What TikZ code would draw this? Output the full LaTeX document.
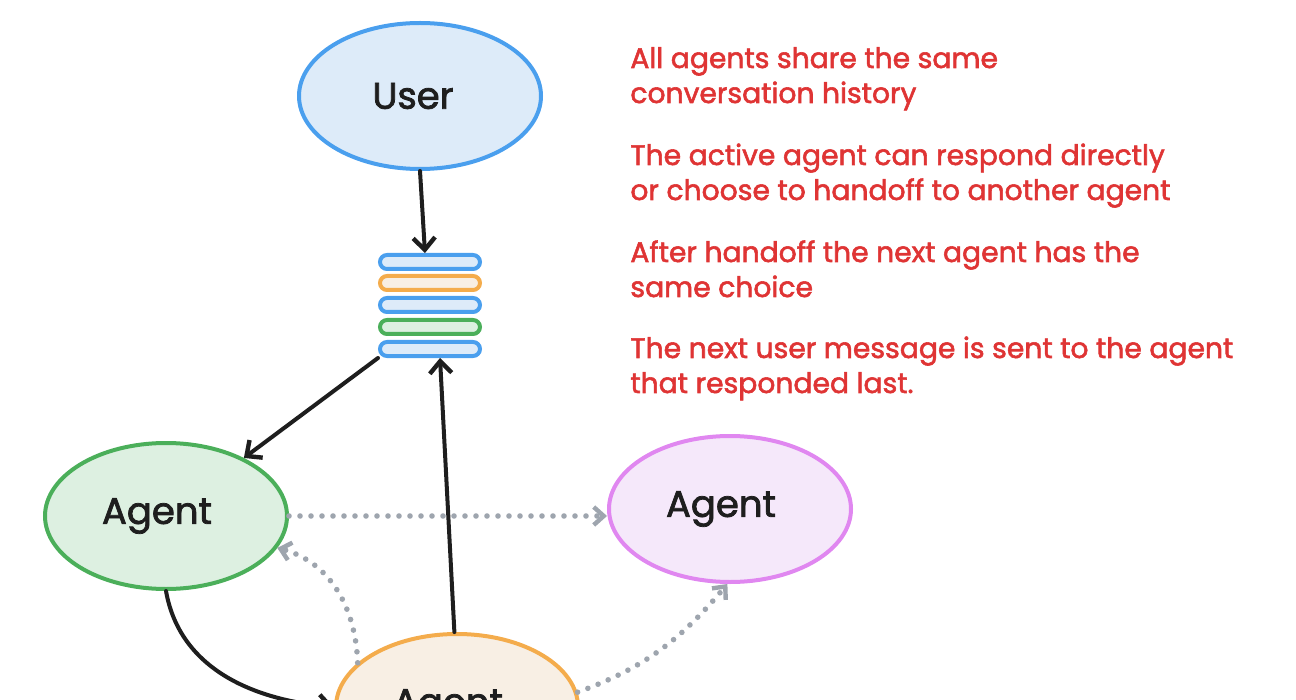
\documentclass[tikz,border=0pt]{standalone}
\usepackage{fontspec}
\setmainfont{Poppins}[FakeBold=2]
\usetikzlibrary{shapes.geometric,arrows.meta}
\definecolor{blueS}{HTML}{4A9FEE}
\definecolor{blueF}{HTML}{DDEBF9}
\definecolor{orangeS}{HTML}{F4AC4C}
\definecolor{orangeF}{HTML}{F8EFE4}
\definecolor{greenS}{HTML}{4BAF5A}
\definecolor{greenF}{HTML}{DDF0E1}
\definecolor{purpleS}{HTML}{E087F0}
\definecolor{purpleF}{HTML}{F5E8FA}
\definecolor{dotgray}{HTML}{9EA5AE}
\definecolor{notered}{HTML}{DF3434}
\definecolor{ink}{HTML}{1E1E1E}
\begin{document}
\begin{tikzpicture}[x=0.5pt,y=0.5pt,
  ell/.style={ellipse, draw, line width=2pt, minimum width=121pt, minimum height=73pt, inner sep=0pt, font=\fontsize{18.5}{22}\selectfont, text=ink},
  bar/.style={rectangle, rounded corners=3.5pt, draw, line width=2pt, minimum width=50pt, minimum height=7pt, inner sep=0pt},
  blk/.style={draw=ink, line width=2pt, line cap=round, -{Straight Barb[length=6pt,width=11pt,line width=2.2pt]}},
  dot/.style={draw=dotgray, line width=2.8pt, line cap=round, dash pattern=on 0pt off 5.5pt, -{Straight Barb[length=5pt,width=9pt,line width=2.2pt]}},
  note/.style={anchor=base west, align=left, text=notered, font=\fontsize{14.1}{17.5}\selectfont, inner sep=0pt}]
\useasboundingbox (0,0) rectangle (1296,-700);
\clip (0,0) rectangle (1296,-700);
% nodes
\node[ell, draw=blueS, fill=blueF] (user) at (420,-96) {User\kern7pt};
\node[bar, draw=blueS, fill=blueF] (s1) at (430,-262) {};
\node[bar, draw=orangeS, fill=orangeF] (s2) at (430,-283) {};
\node[bar, draw=blueS, fill=blueF] (s3) at (430,-305) {};
\node[bar, draw=greenS, fill=greenF] (s4) at (430,-327) {};
\node[bar, draw=blueS, fill=blueF] (s5) at (430,-349) {};
\node[ell, draw=greenS, fill=greenF] (ag1) at (166,-516) {Agent\kern9pt};
\node[ell, draw=purpleS, fill=purpleF] (ag2) at (730,-509) {Agent\kern9pt};
\node[ell, draw=orangeS, fill=orangeF] (ag3) at (457,-707) {Agent\kern9pt};
% notes
\node[note] (n1) at (630,-103) {All agents share the same\\conversation history};
\node[note] (n2) at (630,-200) {The active agent can respond directly\\or choose to handoff to another agent};
\node[note] (n3) at (630,-297) {After handoff the next agent has the\\same choice};
\node[note] (n4) at (630,-393) {The next user message is sent to the agent\\that responded last.};
% connectors
\draw[blk] (user.south) -- ([xshift=-2.5pt]s1.north);
\draw[blk] (s5.south west) -- (ag1);
\draw[blk] (ag3.92) -- ([xshift=5pt]s5.south);
\draw[blk] (ag1.south) to[out=-80,in=175] (ag3.west);
\draw[dot] (ag1.east) -- (ag1.east -| ag2.west);
\draw[dot] (ag3.156) to[out=92,in=-15] (ag1.-16);
\draw[dot] (ag3.7) to[out=20,in=-130] (ag2.-92);
\end{tikzpicture}
\end{document}
